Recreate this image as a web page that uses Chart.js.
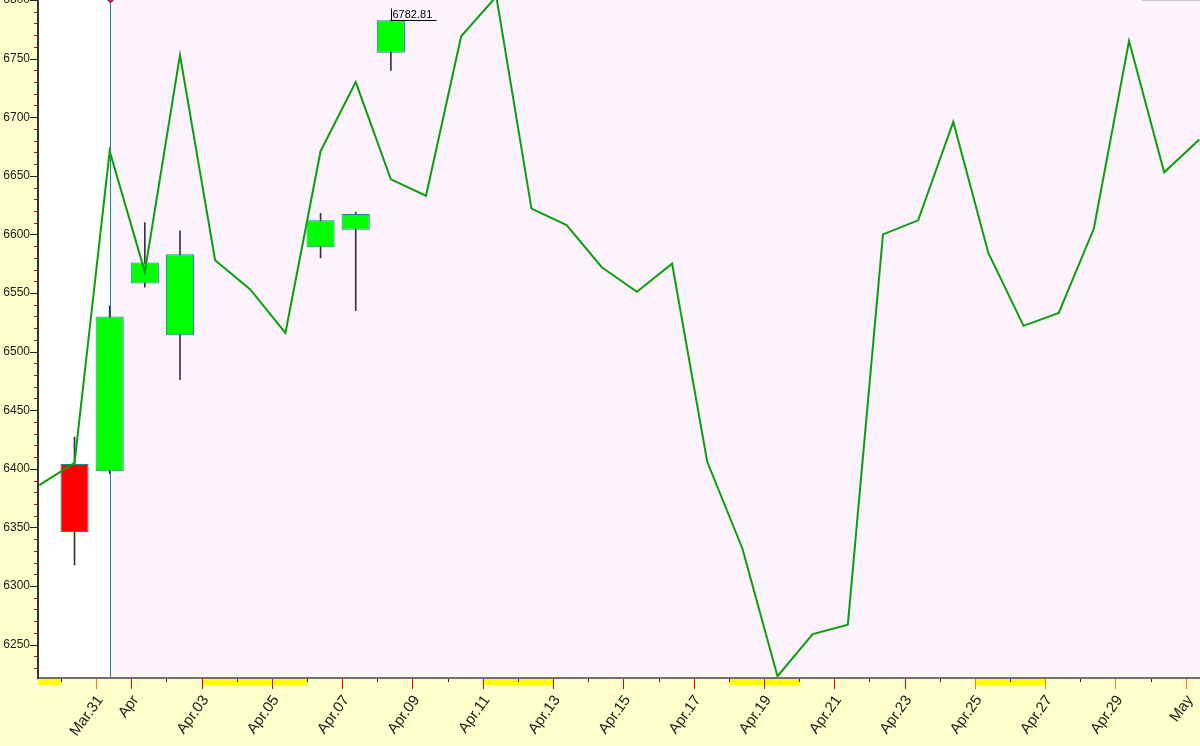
<!DOCTYPE html>
<html>
<head>
<meta charset="utf-8">
<style>
  html, body { margin: 0; padding: 0; background: #ffffcc; }
  #wrap { width: 1200px; height: 746px; }
</style>
<script src="https://cdn.jsdelivr.net/npm/chart.js@4.4.1/dist/chart.umd.min.js"></script>
</head>
<body>
<div id="wrap"><canvas id="myChart" width="1200" height="746"></canvas></div>
<script>
// calendar days on the x axis (index = position)
const days = ['Mar.29','Mar.30','Mar.31','Apr.01','Apr.02','Apr.03','Apr.04','Apr.05','Apr.06','Apr.07',
  'Apr.08','Apr.09','Apr.10','Apr.11','Apr.12','Apr.13','Apr.14','Apr.15','Apr.16','Apr.17',
  'Apr.18','Apr.19','Apr.20','Apr.21','Apr.22','Apr.23','Apr.24','Apr.25','Apr.26','Apr.27',
  'Apr.28','Apr.29','Apr.30','May.01'];
const tickLabels = ['', '', 'Mar.31', 'Apr', '', 'Apr.03', '', 'Apr.05', '', 'Apr.07',
  '', 'Apr.09', '', 'Apr.11', '', 'Apr.13', '', 'Apr.15', '', 'Apr.17',
  '', 'Apr.19', '', 'Apr.21', '', 'Apr.23', '', 'Apr.25', '', 'Apr.27',
  '', 'Apr.29', '', 'May'];
const yTicks = [6250, 6300, 6350, 6400, 6450, 6500, 6550, 6600, 6650, 6700, 6750, 6800];

// candles
const candleDays = ['Mar.30','Mar.31','Apr.01','Apr.02','Apr.06','Apr.07','Apr.08'];
const candleOpen  = [6404, 6398, 6558, 6514, 6589, 6604, 6755];
const candleHigh  = [6427, 6539, 6610, 6603, 6618, 6619, 6782.81];
const candleLow   = [6318, 6396, 6555, 6476, 6580, 6535, 6740];
const candleClose = [6346, 6530, 6576, 6583, 6612, 6617.5, 6782.81];

// green line, one value per day
const lineValues = [6386, 6405, 6671, 6568, 6753, 6578, 6553, 6516, 6671, 6730,
  6647, 6633, 6769, 6803, 6622, 6608, 6572, 6551, 6575, 6406,
  6332, 6223, 6259, 6267, 6600, 6612, 6696, 6584, 6522, 6533,
  6605, 6765, 6653, 6681];

// non trading days (yellow marks under the axis)
const closedDays = ['Mar.29','Apr.03','Apr.04','Apr.05','Apr.11','Apr.12','Apr.18','Apr.19','Apr.25','Apr.26'];
const cursorDay = 'Mar.31';

const OFF = 0.385;        // where a mark sits inside its day
const LABEL_SHIFT = 0.12; // rotated labels sit a little right of their tick
const dayIndex = d => days.indexOf(d);

Chart.defaults.font.family = '"Liberation Sans", Arial, sans-serif';
Chart.defaults.color = '#1a1a1a';

const decor = {
  id: 'decor',
  beforeDraw(chart) {
    const {ctx, chartArea: a, scales: {x}} = chart;
    ctx.save();
    ctx.fillStyle = '#ffffcc';
    ctx.fillRect(0, 0, chart.width, chart.height);
    const cx = x.getPixelForValue(dayIndex(cursorDay) + OFF);
    ctx.fillStyle = '#ffffff';
    ctx.fillRect(a.left, a.top, cx - a.left, a.bottom - a.top);
    ctx.fillStyle = '#fdf3fc';
    ctx.fillRect(cx, a.top, a.right - cx, a.bottom - a.top);
    ctx.fillStyle = '#ffff00';
    closedDays.forEach(d => {
      const i = dayIndex(d);
      const x0 = Math.max(a.left, x.getPixelForValue(i));
      const x1 = Math.min(a.right, x.getPixelForValue(i + 1));
      ctx.fillRect(x0, a.bottom + 1, x1 - x0, 6);
    });
    ctx.restore();
  },
  beforeDatasetsDraw(chart) {
    const {ctx, chartArea: a, scales: {x}} = chart;
    const cx = Math.round(x.getPixelForValue(dayIndex(cursorDay) + OFF)) + 0.5;
    ctx.save();
    ctx.strokeStyle = '#138a8a';
    ctx.lineWidth = 1;
    ctx.beginPath();
    ctx.moveTo(cx, a.top);
    ctx.lineTo(cx, a.bottom);
    ctx.stroke();
    ctx.restore();
  },
  afterDraw(chart) {
    const {ctx, chartArea: a, scales: {x, y}} = chart;
    ctx.save();
    // axis lines
    ctx.fillStyle = '#707070';
    ctx.fillRect(a.left, a.bottom - 1, a.right - a.left, 2);
    ctx.fillStyle = '#333333';
    ctx.fillRect(a.left - 1, 0, 2, a.bottom + 1);

    // y ticks, minor every 10
    for (let v = Math.ceil(y.min / 10) * 10; v <= y.max; v += 10) {
      const py = Math.round(y.getPixelForValue(v)) + 0.5;
      ctx.beginPath();
      if (v % 50 === 0) {
        ctx.strokeStyle = '#222222';
        ctx.moveTo(a.left - 8, py);
      } else {
        ctx.strokeStyle = '#d00000';
        ctx.moveTo(a.left - 4, py);
      }
      ctx.lineTo(a.left - 1, py);
      ctx.stroke();
    }

    // x ticks, every day
    for (let i = 1; i < days.length; i++) {
      const px = Math.round(x.getPixelForValue(i)) + 0.5;
      if (px < a.left || px > a.right) continue;
      ctx.beginPath();
      if (tickLabels[i]) {
        ctx.strokeStyle = (i === 2 || i >= 27) ? '#f07830' : '#e00000';
        ctx.moveTo(px, a.bottom + 1);
        ctx.lineTo(px, a.bottom + 11);
      } else {
        ctx.strokeStyle = '#222222';
        ctx.moveTo(px, a.bottom + 1);
        ctx.lineTo(px, a.bottom + 4);
      }
      ctx.stroke();
    }

    // marker on the highest candle
    let hi = 0;
    candleHigh.forEach((v, i) => { if (v > candleHigh[hi]) hi = i; });
    const hx = Math.round(x.getPixelForValue(dayIndex(candleDays[hi]) + OFF)) + 0.5;
    const hy = Math.round(y.getPixelForValue(candleHigh[hi])) + 0.5;
    ctx.strokeStyle = '#000000';
    ctx.lineWidth = 1;
    ctx.beginPath();
    ctx.moveTo(hx, hy - 12);
    ctx.lineTo(hx, hy);
    ctx.lineTo(hx + 45, hy);
    ctx.stroke();
    ctx.fillStyle = '#000000';
    ctx.font = '11px "Liberation Sans", Arial, sans-serif';
    ctx.textAlign = 'left';
    ctx.textBaseline = 'alphabetic';
    ctx.fillText(candleHigh[hi].toFixed(2), hx + 1, hy - 3);

    // cursor diamond at the top
    const cx = Math.round(x.getPixelForValue(dayIndex(cursorDay) + OFF)) + 0.5;
    ctx.beginPath();
    ctx.moveTo(cx, a.top - 5);
    ctx.lineTo(cx + 4, a.top - 1);
    ctx.lineTo(cx, a.top + 3);
    ctx.lineTo(cx - 4, a.top - 1);
    ctx.closePath();
    ctx.fillStyle = '#e02020';
    ctx.fill();
    ctx.strokeStyle = '#2040c0';
    ctx.stroke();

    // edge of a box in the top right corner
    ctx.fillStyle = '#c8c8c8';
    ctx.fillRect(1142, 0, 58, 1);
    ctx.restore();
  }
};

const bodyData = candleDays.map((d, i) => ({x: dayIndex(d) + OFF, y: [candleOpen[i], candleClose[i]]}));
const wickData = candleDays.map((d, i) => ({x: dayIndex(d) + OFF, y: [candleLow[i], candleHigh[i]]}));
const lineData = lineValues.map((v, i) => ({x: i + OFF, y: v}));

var ctx = document.getElementById('myChart').getContext('2d');
var chart = new Chart(ctx, {
  type: 'bar',
  data: {
    datasets: [
      {
        type: 'line',
        data: lineData,
        borderColor: '#0aa00a',
        borderWidth: 2,
        pointRadius: 0,
        tension: 0,
        order: 0
      },
      {
        data: bodyData,
        backgroundColor: c => {
          const i = c.dataIndex;
          return candleClose[i] >= candleOpen[i] ? '#00ff00' : '#ff0000';
        },
        borderColor: '#1f7f9f',
        borderWidth: 1,
        borderSkipped: false,
        grouped: false,
        categoryPercentage: 1,
        barPercentage: 0.8,
        order: 1
      },
      {
        data: wickData,
        backgroundColor: '#38304a',
        borderWidth: 0,
        grouped: false,
        barThickness: 1,
        order: 2
      }
    ]
  },
  options: {
    responsive: false,
    animation: false,
    events: [],
    layout: { padding: 0 },
    plugins: { legend: { display: false }, tooltip: { enabled: false } },
    scales: {
      x: {
        type: 'linear',
        offset: false,
        min: 0.346,
        max: 33.404,
        grid: { display: false, drawTicks: false },
        border: { display: false },
        afterBuildTicks: s => { s.ticks = days.slice(1).map((d, i) => ({value: i + 1 + LABEL_SHIFT})); },
        afterFit: s => { s.height = 68; s.paddingLeft = 0; s.paddingRight = 0; },
        ticks: {
          autoSkip: false,
          minRotation: 54,
          maxRotation: 54,
          padding: 14,
          font: { size: 15 },
          color: '#1a1a1a',
          callback: v => tickLabels[Math.round(v - LABEL_SHIFT)] || ''
        }
      },
      y: {
        type: 'linear',
        min: 6221.5,
        max: 6800,
        grid: { display: false, drawTicks: false },
        border: { display: false },
        afterBuildTicks: s => { s.ticks = yTicks.map(v => ({value: v})); },
        afterFit: s => { s.width = 38; s.paddingTop = 0; s.paddingBottom = 0; },
        ticks: {
          padding: 8,
          font: { size: 12 },
          color: '#1a1a1a',
          callback: v => String(v)
        }
      }
    }
  },
  plugins: [decor]
});
</script>
</body>
</html>
